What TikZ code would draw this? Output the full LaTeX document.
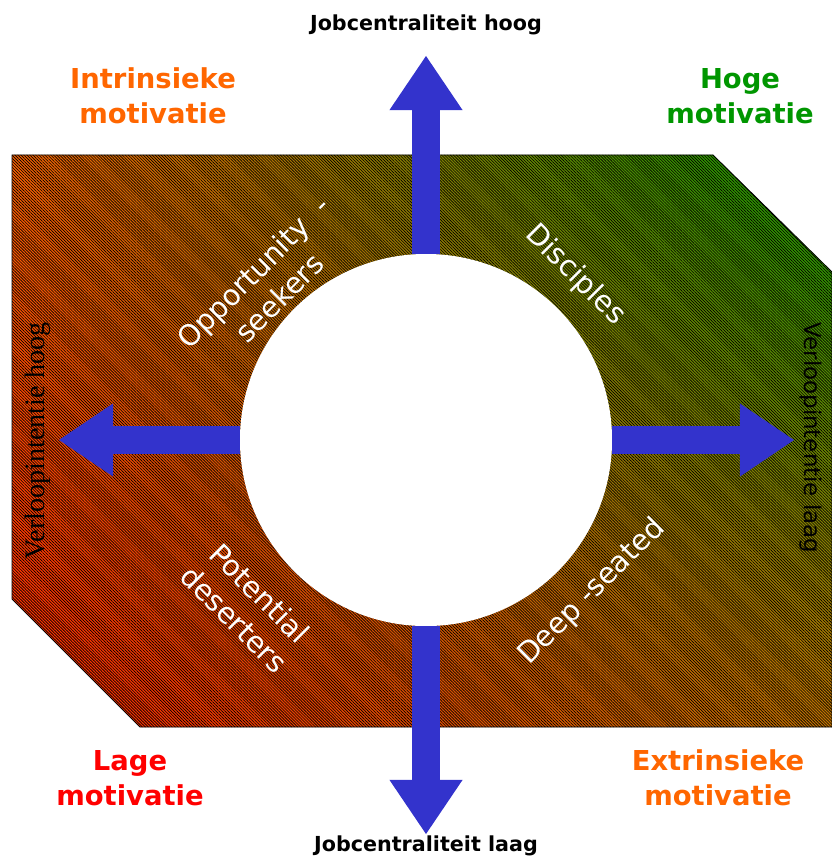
\documentclass[tikz,border=0pt]{standalone}
\usepackage{fontspec}
\setmainfont{DejaVu Sans}
\newfontfamily\timesfont{Liberation Serif}
\usetikzlibrary{calc,arrows.meta,patterns.meta,shadings}

\definecolor{arrowblue}{RGB}{51,51,204}
\definecolor{fieldred}{RGB}{255,35,0}
\definecolor{fieldorange}{RGB}{245,95,0}
\definecolor{fieldbrown}{RGB}{195,115,0}
\definecolor{fieldgreen}{RGB}{10,155,0}
\definecolor{labelorange}{RGB}{255,102,0}
\definecolor{labelgreen}{RGB}{0,150,0}
\definecolor{labelred}{RGB}{255,0,0}

\begin{document}
\begin{tikzpicture}[
        x=0.025cm, y=-0.025cm,
        axislabel/.style={font=\bfseries\fontsize{14.7}{17}\selectfont, text=black},
        cornerlabel/.style={font=\bfseries\fontsize{19.5}{24.8}\selectfont, align=center},
        quadlabel/.style={font=\fontsize{20.5}{26}\selectfont, text=white, align=center},
        bluearrow/.style={line width=0.7cm, draw=arrowblue, -{Triangle[length=1.35cm, width=1.825cm, line width=0pt]}},
        hatch/.style={pattern={Lines[angle=-45, distance=1.5pt, line width=0.45pt]}, pattern color=black}
    ]
    \useasboundingbox (0,0) rectangle (832,859);

    % Hatched field
    \coordinate (c1) at (12,155);
    \coordinate (c2) at (713,155);
    \coordinate (c3) at (832,272);
    \coordinate (c4) at (832,727);
    \coordinate (c5) at (140,727);
    \coordinate (c6) at (12,599);
    \shade[lower left=fieldred, upper left=fieldorange, lower right=fieldbrown, upper right=fieldgreen]
        (c1) -- (c2) -- (c3) -- (c4) -- (c5) -- (c6) -- cycle;
    \draw[hatch, line width=0.6pt] (c1) -- (c2) -- (c3) -- (c4) -- (c5) -- (c6) -- cycle;

    % Centre circle
    \node[circle, fill=white, inner sep=0pt, minimum size=9.3cm] (core) at (426,440) {};

    % Arrows - from the circle outwards
    \coordinate (tipN) at (426,56);
    \coordinate (tipS) at (426,834);
    \coordinate (tipW) at (59,440);
    \coordinate (tipE) at (794,440);
    \draw[bluearrow] (core) -- (tipN);
    \draw[bluearrow] (core) -- (tipS);
    \draw[bluearrow] (core) -- (tipW);
    \draw[bluearrow] (core) -- (tipE);

    % Axis labels
    \node[axislabel] (jobhigh) at (426,25) {Jobcentraliteit hoog};
    \node[axislabel] (joblow) at (426,846) {Jobcentraliteit laag};
    \node[font=\timesfont\fontsize{20}{24}\selectfont, rotate=90] (leavehigh) at (38,441) {Verloopintentie hoog};
    \node[font=\fontsize{16.3}{20}\selectfont, rotate=-90] (leavelow) at (811,438) {Verloopintentie laag};

    % Corner labels
    \node[cornerlabel, text=labelorange] (intrinsic) at (153,96) {Intrinsieke\\motivatie};
    \node[cornerlabel, text=labelgreen] (highmot) at (740,96) {Hoge\\motivatie};
    \node[cornerlabel, text=labelred] (lowmot) at (130,778) {Lage\\motivatie};
    \node[cornerlabel, text=labelorange] (extrinsic) at (718,778) {Extrinsieke\\motivatie};

    % Quadrant labels
    \node[quadlabel, rotate=45] (opportunity) at (266,285) {Opportunity \ -\\seekers};
    \node[quadlabel, rotate=-45] (disciples) at (575,275) {Disciples};
    \node[quadlabel, rotate=-45] (deserters) at (247,606) {Potential\\deserters};
    \node[quadlabel, rotate=45] (deepseated) at (592,592) {Deep -seated};

\end{tikzpicture}
\end{document}
